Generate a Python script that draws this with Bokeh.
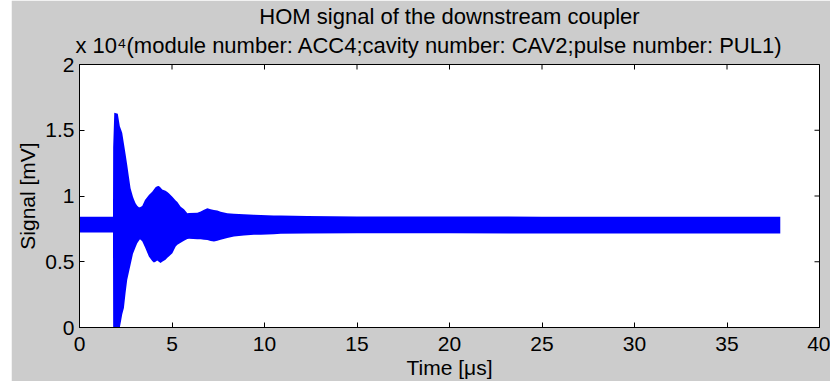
from bokeh.plotting import figure
from bokeh.models import (Range1d, FixedTicker, CustomJSTickFormatter, Title, Spacer)
from bokeh.layouts import row
from bokeh.embed import file_html
from bokeh.resources import INLINE

# ---- data (envelope of the dense HOM signal) ----
time_us = [0.00, 1.81, 1.82, 1.88, 2.07, 2.18, 2.26, 2.31, 2.40, 2.49, 2.58, 2.67,
           2.76, 2.89, 2.94, 3.03, 3.12, 3.21, 3.27, 3.39, 3.54, 3.75, 3.93, 4.02,
           4.11, 4.20, 4.29, 4.38, 4.47, 4.65, 4.75, 4.83, 5.02, 5.20, 5.29, 5.47,
           5.65, 5.83, 5.92, 6.37, 6.55, 6.73, 6.91, 7.09, 7.27, 7.45, 7.63, 7.99,
           8.35, 8.89, 9.43, 9.80, 10.5, 10.88, 12.3, 15.0, 20.0, 25.0, 30.0, 37.88]
upper_mv = [8430, 8430, 13700, 16340, 16260, 15300, 15000, 14800, 14000, 13200, 12350, 11460,
            10580, 9950, 9750, 9440, 9250, 9140, 9150, 9240, 9700, 10080, 10330, 10500,
            10660, 10750, 10760, 10650, 10500, 10400, 10300, 10200, 9950, 9650, 9550, 9190,
            9000, 8690, 8700, 8720, 8820, 8950, 9070, 9000, 8940, 8900, 8800, 8690,
            8650, 8610, 8580, 8560, 8520, 8510, 8480, 8450, 8440, 8430, 8430, 8430]
lower_mv = [7220, 7220, 0, 0, 0, 0, 600, 1000, 1490, 2630, 3640, 4200,
            4770, 5600, 5780, 6100, 6410, 6600, 6720, 6550, 6100, 5400, 5050, 4950,
            5000, 5100, 5000, 4900, 5000, 5150, 5300, 5400, 5650, 6160, 6300, 6450,
            6600, 6730, 6750, 6720, 6720, 6680, 6650, 6580, 6540, 6600, 6670, 6800,
            6920, 7000, 7050, 7060, 7100, 7130, 7140, 7160, 7160, 7140, 7140, 7140]
x_ticks = [0, 5, 10, 15, 20, 25, 30, 35, 40]
y_ticks = [0, 5000, 10000, 15000, 20000]

FONT = "Liberation Sans"
FS = "21px"
TFS = "22px"
GRAY = "#cccccc"

p = figure(width=819, height=381, output_backend="svg", toolbar_location=None,
           x_range=Range1d(0, 40), y_range=Range1d(0, 20000),
           min_border_left=68, min_border_right=11, min_border_top=64, min_border_bottom=53,
           title="HOM signal of the downstream coupler")
xa = p.xaxis[0]
ya = p.yaxis[0]
p.background_fill_color = "white"
p.border_fill_color = GRAY
p.outline_line_color = "black"
p.outline_line_width = 1
p.grid.visible = False

p.varea(x=time_us, y1=lower_mv, y2=upper_mv, fill_color="#0000ff")

# mirrored inward ticks on the top and right edges (half of each dash is clipped)
x_end = p.x_range.end
y_end = p.y_range.end
p.scatter(x=x_ticks, y=[y_end] * len(x_ticks), marker="dash", size=10, angle=1.5708,
          line_color="black", line_width=1)
p.scatter(x=[x_end] * len(y_ticks), y=y_ticks, marker="dash", size=10,
          line_color="black", line_width=1)

sub = Title(text="x 10\u2074(module number: ACC4;cavity number: CAV2;pulse number: PUL1)",
            text_font=FONT, text_font_size=TFS, text_font_style="normal",
            text_color="black", align="left", offset=-4, standoff=9,
            vertical_align="top")
p.add_layout(sub, "above")

p.title.text_font = FONT
p.title.text_font_size = TFS
p.title.text_font_style = "normal"
p.title.text_color = "black"
p.title.align = "center"
p.title.standoff = 0

yfmt = CustomJSTickFormatter(code="return (tick / 10000).toString();")

def style(ax, ticks):
    ax.ticker = FixedTicker(ticks=ticks)
    ax.axis_line_color = "black"
    ax.major_tick_line_color = "black"
    ax.major_tick_in = 5
    ax.major_tick_out = 0
    ax.minor_tick_line_color = None
    ax.major_label_text_font = FONT
    ax.major_label_text_color = "black"
    ax.major_label_text_font_size = FS
    ax.axis_label_text_color = "black"
    ax.axis_label_text_font = FONT
    ax.axis_label_text_font_size = FS
    ax.axis_label_text_font_style = "normal"

style(xa, x_ticks)
xa.major_label_standoff = 9
xa.axis_label = "Time [\u03bcs]"
xa.axis_label_standoff = 2

style(ya, y_ticks)
ya.formatter = yfmt
ya.major_label_standoff = 5
ya.axis_label = "Signal [mV]"
ya.axis_label_standoff = 3

layout = row(Spacer(width=11, height=381), p, spacing=0)
open("out.html", "w").write(file_html(layout, INLINE))
